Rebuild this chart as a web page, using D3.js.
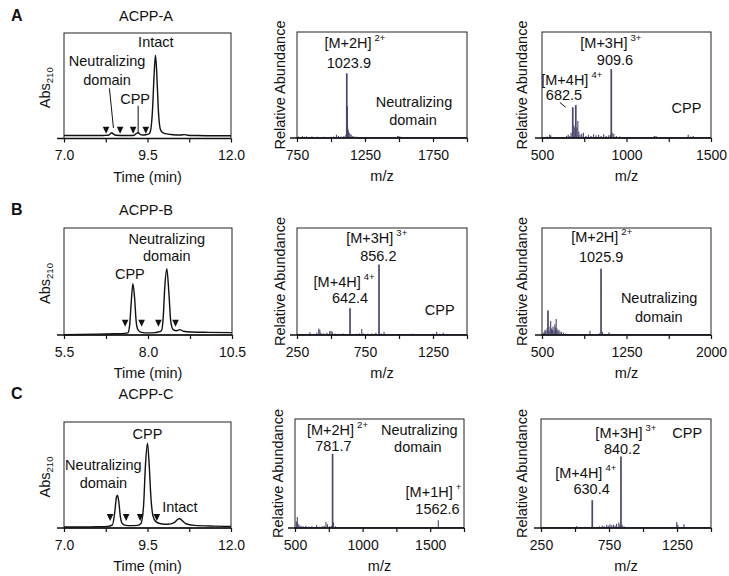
<!DOCTYPE html>
<html><head><meta charset="utf-8">
<script src="https://cdn.jsdelivr.net/npm/d3@7"></script>
<style>
body{margin:0;background:#fff}
svg text{font-family:"Liberation Sans",Arial,sans-serif;fill:#111}
</style></head>
<body><svg id="c" width="729" height="576"></svg>
<script>
// ---------------- DATA ----------------
// Chromatograms: [time (min), Abs210 relative]
const chromA = [[7.0,0.028],[7.5,0.028],[8.0,0.028],[8.2,0.029],[8.33,0.031],[8.39,0.045],[8.43,0.055],[8.48,0.042],[8.56,0.031],[8.8,0.028],[9.0,0.028],[9.1,0.031],[9.17,0.048],[9.22,0.055],[9.28,0.04],[9.35,0.033],[9.45,0.035],[9.55,0.045],[9.6,0.09],[9.65,0.27],[9.7,0.62],[9.74,0.79],[9.78,0.6],[9.82,0.3],[9.86,0.13],[9.9,0.075],[10.0,0.048],[10.2,0.038],[10.5,0.033],[10.6,0.037],[10.7,0.031],[11.0,0.028],[11.5,0.026],[12.0,0.026]];
const chromB = [[5.5,0.003],[6.0,0.005],[6.5,0.008],[7.0,0.012],[7.3,0.015],[7.4,0.02],[7.45,0.08],[7.5,0.3],[7.55,0.48],[7.6,0.35],[7.65,0.12],[7.7,0.05],[7.8,0.025],[8.0,0.02],[8.2,0.022],[8.3,0.028],[8.4,0.04],[8.45,0.15],[8.5,0.45],[8.56,0.62],[8.62,0.4],[8.68,0.12],[8.75,0.05],[8.85,0.04],[8.95,0.05],[9.05,0.035],[9.3,0.028],[9.8,0.025],[10.5,0.022]];
const chromC = [[7.0,0.01],[7.5,0.01],[8.0,0.012],[8.3,0.015],[8.45,0.03],[8.52,0.15],[8.57,0.29],[8.6,0.31],[8.64,0.25],[8.69,0.1],[8.75,0.04],[8.85,0.025],[9.0,0.022],[9.2,0.025],[9.3,0.04],[9.38,0.2],[9.44,0.6],[9.5,0.8],[9.55,0.6],[9.6,0.3],[9.66,0.12],[9.75,0.06],[9.9,0.04],[10.1,0.035],[10.3,0.05],[10.4,0.08],[10.46,0.09],[10.52,0.075],[10.65,0.04],[10.9,0.025],[11.5,0.018],[12.0,0.015]];
// Fraction collection arrows (min)
const arrowsA = [8.26, 8.68, 9.07, 9.45];
const arrowsB = [7.32, 7.81, 8.31, 8.82];
const arrowsC = [8.38, 8.86, 9.28, 9.78];

// Mass spectra: [m/z, relative abundance]
const msA2 = [[760,0.015],[775,0.01],[790,0.018],[805,0.012],[820,0.015],[840,0.01],[860,0.014],[880,0.01],[900,0.012],[925,0.01],[950,0.012],[975,0.01],[1000,0.012],[1020,0.015],[1040,0.03],[1055,0.02],[1075,0.015],[1095,0.02],[1110,0.03],[1116,0.61],[1119,0.3],[1123,0.1],[1128,0.07],[1133,0.05],[1140,0.04],[1148,0.03],[1160,0.02],[1175,0.015],[1190,0.012],[1220,0.01],[1260,0.008],[1300,0.008],[1350,0.006],[1400,0.008],[1450,0.01],[1490,0.02],[1500,0.018],[1510,0.012],[1550,0.008],[1600,0.006],[1700,0.006],[1800,0.005],[1900,0.005],[1980,0.005]];
const msA3 = [[510,0.01],[530,0.015],[545,0.03],[552,0.025],[565,0.01],[590,0.01],[610,0.008],[630,0.01],[645,0.02],[655,0.03],[665,0.02],[672,0.05],[682,0.29],[688,0.12],[694,0.1],[700,0.31],[706,0.1],[712,0.16],[718,0.06],[725,0.03],[735,0.04],[745,0.05],[760,0.02],[775,0.03],[790,0.02],[805,0.035],[820,0.025],[835,0.03],[850,0.02],[865,0.035],[880,0.02],[895,0.025],[905,0.03],[910,0.65],[915,0.05],[925,0.04],[940,0.02],[960,0.015],[990,0.01],[1020,0.01],[1060,0.008],[1100,0.008],[1150,0.01],[1165,0.02],[1175,0.018],[1200,0.008],[1250,0.008],[1300,0.01],[1340,0.01],[1365,0.03],[1380,0.015],[1395,0.02],[1420,0.01],[1460,0.008],[1490,0.006]];
const msB2 = [[270,0.008],[300,0.01],[330,0.01],[345,0.025],[370,0.012],[395,0.02],[410,0.06],[418,0.05],[425,0.02],[445,0.015],[470,0.02],[490,0.035],[500,0.04],[510,0.03],[530,0.015],[560,0.012],[590,0.015],[615,0.01],[640,0.25],[660,0.01],[690,0.012],[710,0.015],[726,0.055],[740,0.015],[770,0.012],[800,0.015],[830,0.02],[853,0.66],[870,0.015],[890,0.03],[920,0.01],[960,0.008],[1000,0.01],[1050,0.008],[1100,0.012],[1150,0.008],[1200,0.01],[1250,0.012],[1277,0.03],[1300,0.012],[1325,0.02],[1360,0.01],[1400,0.008],[1450,0.006],[1490,0.006]];
const msB3 = [[510,0.02],[520,0.03],[527,0.05],[535,0.04],[545,0.06],[553,0.23],[562,0.08],[570,0.04],[577,0.13],[585,0.06],[592,0.05],[598,0.08],[606,0.04],[614,0.1],[620,0.07],[626,0.15],[632,0.06],[640,0.04],[650,0.05],[660,0.03],[672,0.03],[690,0.02],[710,0.015],[740,0.01],[780,0.01],[820,0.008],[860,0.008],[900,0.01],[926,0.04],[950,0.01],[990,0.01],[1010,0.015],[1024,0.62],[1035,0.03],[1050,0.012],[1095,0.025],[1130,0.01],[1200,0.008],[1300,0.006],[1400,0.006],[1500,0.005],[1600,0.005],[1700,0.005],[1800,0.004],[1900,0.004],[1980,0.004]];
const msC2 = [[510,0.06],[517,0.1],[522,0.04],[530,0.03],[545,0.02],[560,0.015],[580,0.02],[600,0.012],[625,0.015],[645,0.01],[660,0.025],[680,0.012],[700,0.015],[715,0.02],[729,0.055],[740,0.035],[755,0.015],[768,0.02],[778,0.68],[785,0.05],[800,0.015],[830,0.01],[860,0.008],[900,0.01],[950,0.008],[1000,0.01],[1050,0.008],[1100,0.01],[1150,0.008],[1200,0.008],[1250,0.01],[1300,0.008],[1350,0.006],[1400,0.008],[1450,0.006],[1500,0.008],[1540,0.01],[1560,0.07],[1575,0.01],[1620,0.006],[1680,0.006],[1740,0.005]];
const msC3 = [[270,0.006],[320,0.006],[370,0.008],[420,0.008],[470,0.01],[512,0.015],[545,0.01],[574,0.012],[600,0.01],[627,0.255],[650,0.01],[680,0.015],[700,0.02],[715,0.015],[733,0.03],[745,0.02],[757,0.035],[770,0.025],[783,0.03],[795,0.02],[806,0.04],[822,0.05],[830,0.03],[838,0.655],[846,0.03],[860,0.015],[890,0.01],[930,0.008],[980,0.01],[1030,0.008],[1080,0.008],[1130,0.01],[1180,0.008],[1220,0.01],[1248,0.055],[1256,0.03],[1275,0.01],[1301,0.035],[1320,0.01],[1370,0.008],[1420,0.006],[1480,0.006]];

// Axis tick values / labels
const majA1 = [7.0, 9.5, 12.0], minA1 = [8.25, 10.75];
const majB1 = [5.5, 8.0, 10.5], minB1 = [6.75, 9.25];
const majC1 = [7.0, 9.5, 12.0], minC1 = [8.25, 10.75];
const majA2 = [750, 1250, 1750], minA2 = [1000, 1500, 2000];
const majA3 = [500, 1000, 1500], minA3 = [750, 1250];
const majB2 = [250, 750, 1250], minB2 = [500, 1000, 1500];
const majB3 = [500, 1250, 2000], minB3 = [875, 1625];
const majC2 = [500, 1000, 1500], minC2 = [750, 1250, 1750];
const majC3 = [250, 750, 1250], minC3 = [500, 1000, 1500];

// Annotations (x in data units, y as fraction of plot height)
const annA1 = [{t:"Intact",x:9.75,y:0.867},{t:"Neutralizing",x:8.29,y:0.69},{t:"domain",x:8.29,y:0.51},{t:"CPP",x:9.13,y:0.324}];
const leadA1 = [[[8.36,0.476],[8.48,0.10]],[[9.22,0.31],[9.22,0.05]]];
const annB1 = [{t:"CPP",x:7.46,y:0.52},{t:"Neutralizing",x:8.56,y:0.85},{t:"domain",x:8.56,y:0.687}];
const annC1 = [{t:"CPP",x:9.5,y:0.84},{t:"Neutralizing",x:8.18,y:0.547},{t:"domain",x:8.18,y:0.375},{t:"Intact",x:10.47,y:0.148}];
const annA2 = [{t:"[M+2H]",s:"2+",x:1176,y:0.85},{t:"1023.9",x:1131,y:0.66},{t:"Neutralizing",x:1610,y:0.295},{t:"domain",x:1603,y:0.123}];
const annA3 = [{t:"[M+3H]",s:"3+",x:907,y:0.85},{t:"909.6",x:932,y:0.69},{t:"[M+4H]",s:"4+",x:676,y:0.5},{t:"682.5",x:630,y:0.36},{t:"CPP",x:1355,y:0.235}];
const leadA3 = [[[606,0.335],[640,0.29]]];
const annB2 = [{t:"[M+3H]",s:"3+",x:836,y:0.857},{t:"856.2",x:848,y:0.69},{t:"[M+4H]",s:"4+",x:596,y:0.45},{t:"642.4",x:640,y:0.296},{t:"CPP",x:1299,y:0.187}];
const annB3 = [{t:"[M+2H]",s:"2+",x:1030,y:0.866},{t:"1025.9",x:1025,y:0.685},{t:"Neutralizing",x:1540,y:0.296},{t:"domain",x:1537,y:0.124}];
const annC2 = [{t:"[M+2H]",s:"2+",x:814,y:0.853},{t:"781.7",x:784,y:0.706},{t:"Neutralizing",x:1419,y:0.853},{t:"domain",x:1409,y:0.70},{t:"[M+1H]",s:"+",x:1524,y:0.287},{t:"1562.6",x:1554,y:0.126}];
const annC3 = [{t:"[M+3H]",s:"3+",x:874,y:0.823},{t:"840.2",x:846,y:0.676},{t:"CPP",x:1325,y:0.823},{t:"[M+4H]",s:"4+",x:579,y:0.456},{t:"630.4",x:622,y:0.31}];

const titles = ["ACPP-A","ACPP-B","ACPP-C"];
const letters = ["A","B","C"];

// ---------------- LAYOUT ----------------
const svg = d3.select("#c");
const MS_COLOR = "#4a466e";
const FS = 14.5;

const panels = [
  {kind:"lc", data:chromA, arrows:arrowsA, dom:[7,12], maj:majA1, min:minA1, ann:annA1, lead:leadA1, fmt:d3.format(".1f"), x0:64, x1:231, y0:33, y1:138.5, aTip:0.045, row:0},
  {kind:"ms", data:msA2, dom:[750,2000], maj:majA2, min:minA2, ann:annA2, x0:297, x1:467, y0:32, y1:138, ylab:285},
  {kind:"ms", data:msA3, dom:[500,1500], maj:majA3, min:minA3, ann:annA3, lead:leadA3, x0:542, x1:711, y0:32, y1:138, ylab:527},
  {kind:"lc", data:chromB, arrows:arrowsB, dom:[5.5,10.5], maj:majB1, min:minB1, ann:annB1, fmt:d3.format(".1f"), x0:64, x1:232, y0:228, y1:335, aTip:0.078, row:1},
  {kind:"ms", data:msB2, dom:[250,1500], maj:majB2, min:minB2, ann:annB2, x0:297, x1:467, y0:228, y1:335, ylab:285},
  {kind:"ms", data:msB3, dom:[500,2000], maj:majB3, min:minB3, ann:annB3, x0:542, x1:711, y0:228, y1:335, ylab:527},
  {kind:"lc", data:chromC, arrows:arrowsC, dom:[7,12], maj:majC1, min:minC1, ann:annC1, fmt:d3.format(".1f"), x0:64, x1:231, y0:422, y1:528, aTip:0.066, row:2},
  {kind:"ms", data:msC2, dom:[500,1750], maj:majC2, min:minC2, ann:annC2, x0:295, x1:464, y0:419, y1:528, ylab:283},
  {kind:"ms", data:msC3, dom:[250,1500], maj:majC3, min:minC3, ann:annC3, x0:541, x1:711, y0:419, y1:528, ylab:527}
];

function addLabel(g, a, x, y) {
  const t = g.append("text").attr("x", x(a.x)).attr("y", y(a.y))
    .attr("text-anchor","middle").attr("font-size", FS).text(a.t);
  if (a.s) t.append("tspan").attr("font-size", 9.5).attr("dx", 3).attr("dy", -7).text(a.s);
}

panels.forEach(p => {
  const g = svg.append("g");
  const x = d3.scaleLinear().domain(p.dom).range([p.x0, p.x1]);
  const y = d3.scaleLinear().domain([0, 1]).range([p.y1, p.y0]);

  // frame
  g.append("rect").attr("x", p.x0).attr("y", p.y0).attr("width", p.x1 - p.x0).attr("height", p.y1 - p.y0)
    .attr("fill","none").attr("stroke","#222").attr("stroke-width",1);

  // data
  if (p.kind === "lc") {
    g.append("path").datum(p.data)
      .attr("d", d3.line().x(d => x(d[0])).y(d => y(d[1])).curve(d3.curveMonotoneX))
      .attr("fill","none").attr("stroke","#111").attr("stroke-width",1.4);
    g.selectAll(".arr").data(p.arrows).enter().append("path")
      .attr("d", t => { const cx = x(t), ty = y(p.aTip); return `M${cx-3.3},${ty-7}L${cx+3.3},${ty-7}L${cx},${ty}Z`; })
      .attr("fill","#111");
  } else {
    g.append("line").attr("x1", p.x0).attr("x2", p.x1).attr("y1", y(0.004)).attr("y2", y(0.004))
      .attr("stroke", MS_COLOR).attr("stroke-width", 1.2);
    g.selectAll(".bar").data(p.data).enter().append("line")
      .attr("x1", d => x(d[0])).attr("x2", d => x(d[0]))
      .attr("y1", y(0)).attr("y2", d => y(d[1]))
      .attr("stroke", MS_COLOR).attr("stroke-width", d => d[1] > 0.2 ? 1.7 : 1.1);
  }

  // x axis
  const ax = g.append("g").attr("transform", `translate(0,${p.y1})`);
  ax.call(d3.axisBottom(x).tickValues(p.maj).tickSize(4).tickPadding(8).tickSizeOuter(0)
      .tickFormat(p.fmt || d3.format("d")));
  ax.select(".domain").remove();
  ax.selectAll("text").attr("font-size", 14).attr("font-family", '"Liberation Sans",Arial,sans-serif').attr("fill","#111");
  ax.selectAll("line").attr("stroke","#111").attr("stroke-width",1.2);
  const ax2 = g.append("g").attr("transform", `translate(0,${p.y1})`);
  ax2.call(d3.axisBottom(x).tickValues(p.min).tickSize(4).tickFormat("").tickSizeOuter(0));
  ax2.select(".domain").remove();
  ax2.selectAll("line").attr("stroke","#111").attr("stroke-width",1.2);
  g.append("line").attr("x1", p.x0 - 7).attr("x2", p.x1).attr("y1", p.y1).attr("y2", p.y1)
    .attr("stroke","#111").attr("stroke-width",1.5);

  // axis titles
  g.append("text").attr("x", (p.x0 + p.x1) / 2).attr("y", p.y1 + 43).attr("text-anchor","middle")
    .attr("font-size", 14.5).text(p.kind === "lc" ? "Time (min)" : "m/z");
  const cy = (p.y0 + p.y1) / 2;
  if (p.kind === "lc") {
    const t = g.append("text").attr("transform", `translate(50,${cy + 2}) rotate(-90)`)
      .attr("text-anchor","middle").attr("font-size", 14.5).text("Abs");
    t.append("tspan").attr("font-size", 9.5).attr("dy", 3).text("210");
    g.append("text").attr("x", 11).attr("y", [21, 215, 399][p.row]).attr("font-size", 16).attr("font-weight","bold").text(letters[p.row]);
    g.append("text").attr("x", 146).attr("y", [20.7, 215, 399][p.row]).attr("text-anchor","middle").attr("font-size", 14.5).text(titles[p.row]);
  } else {
    g.append("text").attr("transform", `translate(${p.ylab},${cy}) rotate(-90)`)
      .attr("text-anchor","middle").attr("font-size", 14.5).text("Relative Abundance");
  }

  // annotations
  p.ann.forEach(a => addLabel(g, a, x, y));
  (p.lead || []).forEach(l => {
    g.append("line").attr("x1", x(l[0][0])).attr("y1", y(l[0][1])).attr("x2", x(l[1][0])).attr("y2", y(l[1][1]))
      .attr("stroke","#111").attr("stroke-width",1);
  });
});
</script></body></html>
